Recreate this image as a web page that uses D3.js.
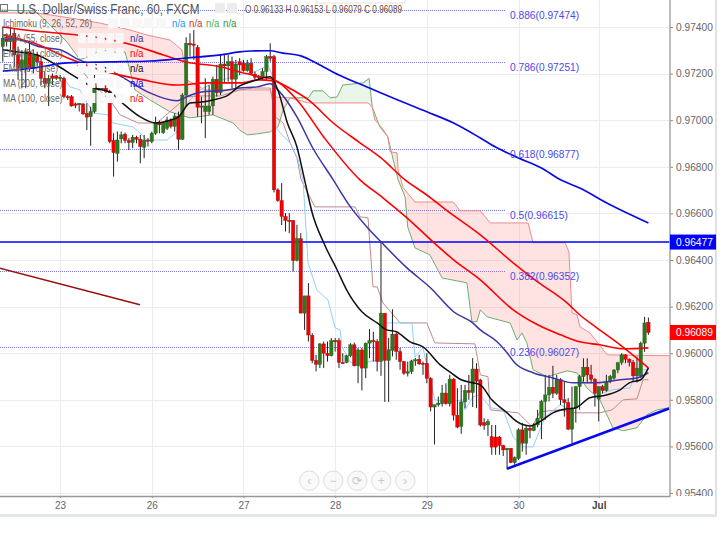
<!DOCTYPE html>
<html><head><meta charset="utf-8">
<script src="https://cdn.jsdelivr.net/npm/d3@7"></script>
<style>html,body{margin:0;padding:0;background:#fff}svg{display:block}text{font-family:"Liberation Sans",Arial,sans-serif}</style>
</head><body><svg id="c" width="725" height="543"></svg>
<script>
// Prices are in units of 0.00001 (97400 = 0.97400). Candle index is the hourly bar number.
const title = "U.S. Dollar/Swiss Franc, 60, FXCM";
const ohlcText = "O 0.96133 H 0.96153 L 0.96079 C 0.96089";
const dayTickIndex = [15,39,63,87,111,135,156];
const dayTickLabels = ["23","26","27","28","29","30","Jul"];
const priceTicks = [95400,95600,95800,96000,96200,96400,96600,96800,97000,97200,97400];
const opens = [97316,97356,97337,97373,97280,97223,97223,97294,97223,97280,
97251,97180,97158,97190,97190,97178,97180,97101,97101,97070,
97066,97070,97030,97015,97037,97147,97133,97147,97123,96913,
96858,96920,96940,96913,96904,96927,96918,96884,96915,96908,
96944,96990,96947,96965,97001,96973,97018,96918,97108,97330,
97327,97313,97056,97037,97037,97061,97176,97118,97241,97233,
97251,97176,97251,97244,97213,97244,97198,97187,97184,97209,
97273,97273,96701,96655,96587,96570,96570,96398,96492,96172,
96246,96077,95969,95952,96040,96000,95989,96054,96054,95960,
95960,95989,96036,95946,96014,95936,96043,96054,96050,95964,
96172,95969,96012,96082,96007,95964,95914,95921,95967,95974,
95957,95957,95892,95769,95779,95783,95829,95783,95889,95734,
95686,95791,95840,95831,95932,95885,95702,95692,95642,95640,
95640,95604,95585,95592,95531,95549,95671,95614,95678,95668,
95692,95721,95793,95821,95854,95828,95886,95800,95788,95674,
95764,95857,95900,95940,95907,95888,95803,95857,95840,95878,
95893,95928,95960,95993,95974,95961,95903,95903,96043,96133];
const highs = [97402,97373,97402,97394,97316,97301,97309,97330,97301,97294,
97273,97209,97194,97201,97194,97194,97187,97108,97108,97076,
97080,97073,97073,97058,97194,97158,97166,97151,97130,96944,
96951,96951,96947,96923,96937,96933,96937,96937,96923,96951,
97015,96998,96994,97015,97008,97030,97037,97116,97356,97373,
97387,97323,97101,97180,97151,97187,97237,97280,97280,97280,
97273,97259,97266,97259,97259,97266,97209,97194,97223,97280,
97330,97280,96708,96730,96601,96601,96570,96551,96515,96246,
96301,96086,95993,96043,96050,96050,96065,96065,96065,96000,
95993,96043,96046,96022,96022,96046,96103,96092,96060,96478,
96172,96065,96189,96086,96022,95967,95964,95972,95979,95993,
95964,96000,95897,95779,95814,95864,95871,95907,95893,95850,
95864,95864,95907,95979,95957,95890,95721,95717,95692,95692,
95645,95607,95592,95592,95557,95678,95700,95692,95685,95700,
95757,95800,95907,95907,95946,95907,95893,95878,95807,95857,
95857,95907,95978,95978,95950,95893,95857,95864,95907,95907,
95931,95960,96000,95996,95978,95971,95986,96050,96156,96153];
const lows = [97251,97316,97301,97230,97173,97137,97137,97209,97201,97230,
97151,97137,97061,97151,97173,97166,97094,97087,97058,97051,
97037,97023,96958,96890,97030,97127,97130,97116,96901,96758,
96822,96901,96901,96872,96880,96901,96815,96837,96887,96901,
96937,96944,96941,96958,96965,96951,96872,96915,97058,97273,
97259,97015,96987,96923,97023,97023,97101,97108,97158,97166,
97137,97137,97194,97208,97208,97194,97173,97173,97173,97173,
97251,96690,96650,96550,96522,96515,96351,96394,96172,96100,
96050,95957,95922,95936,95936,95964,95986,96007,95936,95954,
95957,95983,95943,95871,95840,95893,95979,95964,95922,95903,
95791,95791,95986,95972,95929,95907,95900,95911,95946,95950,
95907,95871,95750,95608,95771,95771,95779,95771,95711,95678,
95654,95764,95800,95769,95764,95685,95671,95645,95564,95564,
95564,95559,95502,95528,95521,95542,95578,95564,95635,95665,
95682,95631,95714,95793,95807,95821,95778,95728,95671,95614,
95702,95757,95878,95871,95871,95771,95707,95828,95835,95871,
95886,95914,95950,95957,95943,95878,95874,95893,96006,96079];
const closes = [97352,97337,97362,97280,97223,97259,97294,97223,97280,97251,
97180,97158,97180,97180,97180,97184,97101,97098,97061,97064,
97073,97027,97013,97037,97158,97133,97147,97123,96908,96861,
96915,96937,96913,96904,96927,96918,96887,96915,96910,96944,
96990,96980,96990,97001,96973,97018,96918,97108,97330,97323,
97321,97056,97061,97061,97061,97176,97118,97241,97233,97251,
97176,97241,97237,97213,97244,97201,97184,97184,97209,97273,
97266,96701,96655,96587,96570,96567,96398,96492,96172,96246,
96078,95969,95952,96040,96000,95989,96054,96052,95960,95957,
95989,96036,95946,96014,95936,96043,96054,96050,95964,96172,
95969,96015,96082,96007,95964,95914,95921,95967,95972,95954,
95954,95892,95769,95779,95786,95829,95783,95889,95734,95683,
95791,95840,95831,95932,95880,95692,95690,95707,95597,95597,
95604,95585,95592,95531,95552,95671,95614,95678,95668,95692,
95721,95793,95821,95854,95828,95886,95800,95788,95674,95764,
95857,95900,95940,95907,95888,95828,95857,95840,95878,95900,
95928,95960,95993,95974,95961,95903,95936,96043,96130,96089];

const ma200Idx = [0,8,17,28,38.5,48,57,62,65,70,73,78,83,88,96,102,111,118,125,129,135,141,146,151,159,169];
const ma200Val = [97211,97224,97246,97250,97254,97267,97280,97293,97297,97298,97289,97276,97237,97194,97138,97096,97036,96988,96924,96885,96838,96795,96744,96709,96637,96559];
const ma100Idx = [0,8,17,27,34,42,48,57,62,66.5,71,75,80,86.5,93.5,99,105.3,111,116,125,133.6,140,147.7,151,155.5,161.6,169];
const ma100Val = [97400,97383,97370,97349,97323,97280,97250,97229,97207,97190,97173,97138,97087,96988,96903,96838,96744,96679,96615,96508,96388,96306,96216,96165,96109,96036,95937];
const emaRedIdx = [0,8,17,25.5,36.7,45.6,53.5,62,67,71,77,84,93.5,99.5,105.8,112.6,118,125,133.6,140,146,151,156.3,162.4,169];
const emaRedVal = [97366,97332,97267,97216,97173,97151,97160,97160,97173,97168,97087,96928,96744,96667,96581,96478,96401,96315,96186,96122,96079,96049,96036,96019,96023];
const ema55Idx = [0,4.5,10,15,20,27,32.5,38.5,45.6,48,52,57,62,66.5,70,72,77,81,86.5,91,95.3,99,105.8,112,118,123,125,129.4,132,134,138.8,144,149.3,155.5,161.6,166,169];
const ema55Val = [97351,97344,97314,97302,97259,97224,97173,97117,97083,97100,97121,97126,97138,97143,97156,97130,97014,96885,96744,96628,96542,96478,96366,96280,96178,96130,96100,96049,96002,95959,95916,95894,95873,95873,95886,95894,95916];
const emaBlackIdx = [0,4,9,14,19,24,28,31,36,40,44,46,49,52,55,59,62,65.5,70,72,74.5,77,79,81,84,87.5,90,94,98,100.5,103,106.6,110,114.5,117,120,123,125,128,132,134.6,138,140.6,144,147.7,150,153.7,157,161.6,164,167,169];
const emaBlackVal = [97302,97293,97280,97237,97186,97138,97121,97078,97014,96988,97001,97014,97074,97078,97087,97108,97147,97168,97186,97130,96988,96885,96744,96602,96474,96358,96272,96178,96130,96100,96092,96049,96027,95950,95920,95886,95873,95864,95800,95744,95706,95688,95706,95744,95761,95766,95809,95817,95843,95873,95886,95937];
const spanAIdx = [-1,8.4,9,11,16.8,20.2,23.6,25.4,30.2,32,34.6,38.5,43.8,49,55,60.3,62,64,66.5,70,72,73.4,75.2,80,81.2,83.8,85.7,87.5,89,94.3,95.9,96.7,98.7,100.8,102.2,103.5,105.3,106,107.9,111.8,115,121.5,122.8,124.1,125,126.8,132.8,134.6,135.9,137.2,138.8,142.5,147.7,150.3,152.9,156.3,159.7,162.4,166,168.6,171.3,174.4];
const spanAVal = [97473,97469,97460,97430,97336,97259,97280,97302,97289,97293,97130,97087,97036,97010,97023,96988,96958,96937,96941,96950,96971,97044,97096,97096,97126,97126,97096,97100,97151,97160,97179,97057,96971,96928,96830,96744,96671,96542,96452,96422,96323,96302,96135,96135,96186,96156,96130,96057,96087,96044,95929,95899,95924,95916,95851,95800,95680,95667,95680,95736,95757,95766];
const spanBIdx = [-1,9,17.6,25.4,33.3,37.7,43.8,46.9,48.2,52.9,62,70,70.7,75.2,80,95.6,96.7,97.4,99.3,100.8,101.4,103.2,103.5,104.8,107.9,117.9,119.7,125,127.6,137.5,138.8,147.2,148.2,149,150.3,151.1,153.7,158.2,174.4];
const spanBVal = [97460,97460,97439,97417,97387,97366,97344,97302,97173,97130,97130,97130,97100,97096,97074,97074,97057,97001,96967,96928,96864,96860,96787,96710,96649,96649,96611,96611,96559,96559,96474,96474,96435,96173,96165,96113,96087,95993,95989];
const kijunIdx = [19.4,22.3,28.6,30.7,35.4,40.4,41.9,48.2,51.6,56.9,62.1,65.5,70,71.3,73.4,75.2,77,78.1,81.7,92.2,93.5,95.6,96.9,98,99.5,104,111,113.1,123.6,125,127,127.6,134.9,138.6,140.6,145.9,150.3,156.3,159.5,162.4,166,167.6,169];
const kijunVal = [97237,97181,97074,97023,96988,96988,97010,97100,97104,97104,97130,97138,97138,97014,96988,96903,96838,96744,96628,96628,96585,96581,96285,96285,96216,96130,96130,96044,96040,95907,95899,95757,95744,95684,95749,95757,95744,95744,95757,95800,95804,95886,95886];
const tenkanIdx = [15.8,17.6,20.2,23.6,27.5,28.8,34.1,35.9,37.7,43,45.6,46.9,49,51.6,55.6,62.1,66,69.4,70.5,70.7,72.6,75.2,77.3,78.6,79.9,82.2,85.1,87,88.3,88.8,90.9,94.3,95.6,98.7,99.5,107.1,107.9,110,113.1,116.6,120.5,121,123.1,125,127.6,131,133.6,136.2,138.8,142,145.9,149,153.7,159.5,164.2,166,169];
const tenkanVal = [97181,97143,97130,97031,97023,96988,96971,96945,96915,96915,96950,97044,97087,97130,97164,97194,97207,97237,97194,96988,96945,96903,96830,96744,96388,96272,96229,96109,96100,96027,95963,95937,95963,95972,96130,96130,95984,96023,95800,95791,95800,95757,95813,95821,95766,95757,95641,95598,95598,95727,95778,95757,95809,95843,95851,95929,95929];
const fibRatios = ["0.886","0.786","0.618","0.5","0.382","0.236"];
const fibPrices = [97474,97251,96877,96615,96352,96027];
const horizontalLevel = 96477;
const lastClose = 96089;
const brownLineIdx = [-1,35.9];
const brownLineVal = [96366,96208];
const trendIdx = [132,174.4];
const trendVal = [95504,95763];
const legendRows = ["EMA (55, close)","EMA (21, close)","EMA (9, close)","MA (200, close)","MA (100, close)"];
const legendColors = ["#333399","#ff0000","#111111","#0000ff","#ff0000"];
const ichimokuLabel = "Ichimoku (9, 26, 52, 26)";
const ichimokuNaColors = ["#2196f3","#c0392b","#4caf50","#388e3c"];
const navGlyphs = ["‹","−","⟳","+","›"];

const svg = d3.select("#c");
const PLOT_R = 670, PLOT_B = 496;
const x = d3.scaleLinear().domain([0,169]).range([2.8,648.4]);
const y = d3.scaleLinear().domain([95400,97400]).range([493,27]);
const fmt = v => (v/1e5).toFixed(5);
const zip = (ix,vs) => ix.map((d,i)=>[d,vs[i]]);
const lineGen = d3.line().x(d=>x(d[0])).y(d=>y(d[1]));
const smooth = d3.line().x(d=>x(d[0])).y(d=>y(d[1])).curve(d3.curveMonotoneX);

const defs = svg.append("defs");
defs.append("clipPath").attr("id","plot").append("rect").attr("x",0).attr("y",0).attr("width",PLOT_R).attr("height",PLOT_B);
defs.append("clipPath").attr("id","axisclip").append("rect").attr("x",0).attr("y",0).attr("width",55).attr("height",PLOT_B);

// grid
const grid = svg.append("g").attr("stroke","#ececec").attr("stroke-width",1);
priceTicks.forEach(p=>grid.append("line").attr("x1",0).attr("x2",PLOT_R).attr("y1",Math.round(y(p))+.5).attr("y2",Math.round(y(p))+.5));
dayTickIndex.forEach(i=>grid.append("line").attr("y1",0).attr("y2",PLOT_B).attr("x1",Math.round(x(i))+.5).attr("x2",Math.round(x(i))+.5));

const plot = svg.append("g").attr("clip-path","url(#plot)");

// fib dotted levels
fibPrices.forEach(p=>plot.append("line").attr("x1",0).attr("x2",506).attr("y1",Math.round(y(p))+.5).attr("y2",Math.round(y(p))+.5)
  .attr("stroke","#7a7aff").attr("stroke-dasharray","1,1"));

// cloud
const A = zip(spanAIdx,spanAVal), B = zip(spanBIdx,spanBVal);
function cloud(a,b,fill){
  const top = A.filter(d=>d[0]>=a&&d[0]<=b), bot = B.filter(d=>d[0]>=a&&d[0]<=b).reverse();
  plot.append("path").attr("d",lineGen(top.concat(bot))+"Z").attr("fill",fill);
}
cloud(-1,9,"rgba(76,175,80,.13)");
cloud(9,75.2,"rgba(255,82,82,.16)");
cloud(75.2,96.7,"rgba(76,175,80,.13)");
cloud(96.7,174.4,"rgba(255,82,82,.16)");

// legend (under candles)
const lg = svg.append("g").attr("fill","#666");
function fit(t,xx,yy,size,len,fill){
  return lg.append("text").attr("x",xx).attr("y",yy).attr("font-size",size).attr("fill",fill||"#666")
    .attr("textLength",len).attr("lengthAdjust","spacingAndGlyphs").text(t);
}
lg.append("rect").attr("x",0.5).attr("y",4.5).attr("width",7).attr("height",7).attr("fill","none").attr("stroke","#777");
fit(title,16.5,14,14.5,183,"#555");
for(let k=0;k<5;k++) lg.append("rect").attr("x",108+k*12).attr("y",18).attr("width",10).attr("height",10).attr("fill","#f7f7f7");
fit(ichimokuLabel,3,27,11.5,89);
ichimokuNaColors.forEach((c,i)=>fit("n/a",172+i*17,27,11.5,13.5,c));
legendRows.forEach((t,i)=>{
  const yy = 42+i*15;
  for(let k=0;k<5;k++) lg.append("rect").attr("x",78+k*9.4).attr("y",yy-9).attr("width",8).attr("height",10)
     .attr("fill","#f8f8f8");
  fit(t,3,yy,11.5,t.startsWith("EMA (9")?55:59.5);
  fit("n/a",130,yy,11.5,13.5,legendColors[i]);
});
for(let k=0;k<2;k++) lg.append("rect").attr("x",215+k*12).attr("y",3).attr("width",10).attr("height",10).attr("fill","#ececec");
fit(ohlcText,245,13,11.5,157,"#6b4a3a");
svg.append("rect").attr("x",316).attr("y",-3).attr("width",89).attr("height",6).attr("fill","#fff").attr("stroke","#e3e3e3");

// thin ichimoku lines
plot.append("path").attr("d",lineGen(A)).attr("fill","none").attr("stroke","#6fae6f").attr("stroke-width",1);
plot.append("path").attr("d",lineGen(B)).attr("fill","none").attr("stroke","#f08a8a").attr("stroke-width",1);
plot.append("path").attr("d",lineGen(zip(kijunIdx,kijunVal))).attr("fill","none").attr("stroke","#c08a8a").attr("stroke-width",1);
plot.append("path").attr("d",lineGen(zip(tenkanIdx,tenkanVal))).attr("fill","none").attr("stroke","#8fd0ff").attr("stroke-width",1);

// horizontal level
plot.append("line").attr("x1",0).attr("x2",PLOT_R).attr("y1",y(horizontalLevel)).attr("y2",y(horizontalLevel)).attr("stroke","#0000ff").attr("stroke-width",1.6);

// candles
const candles = plot.append("g");
opens.forEach((o,i)=>{
  const c = closes[i], up = c>=o, cx = x(i);
  candles.append("line").attr("x1",cx).attr("x2",cx).attr("y1",y(highs[i])).attr("y2",y(lows[i])).attr("stroke","#222").attr("stroke-width",1);
  const t = y(Math.max(o,c)), b = y(Math.min(o,c));
  candles.append("rect").attr("x",cx-1.7).attr("width",3.4).attr("y",t).attr("height",Math.max(b-t,1.2))
    .attr("fill",up?"#2a7a1a":"#f40000").attr("stroke",up?"#2f5a28":"#8a1a1a").attr("stroke-width",.4);
});

// moving averages
[[ema55Idx,ema55Val,"#3b35a5",1.5],[emaRedIdx,emaRedVal,"#f00",1.6],[ma100Idx,ma100Val,"#f00",1.6],[emaBlackIdx,emaBlackVal,"#111",1.5],[ma200Idx,ma200Val,"#0a0ae6",1.7]]
 .forEach(([ix,vs,col,w])=>plot.append("path").attr("d",smooth(zip(ix,vs))).attr("fill","none").attr("stroke",col).attr("stroke-width",w));

// drawn lines
plot.append("path").attr("d",lineGen(zip(brownLineIdx,brownLineVal))).attr("stroke","#990f0f").attr("stroke-width",1.5).attr("fill","none");
plot.append("path").attr("d",lineGen(zip(trendIdx,trendVal))).attr("stroke","#0808f0").attr("stroke-width",2.6).attr("fill","none");

// fib labels
fibRatios.forEach((r,i)=>svg.append("text").attr("x",510).attr("y",y(fibPrices[i])+9).attr("font-size",10.2).attr("fill","#4a4ae8").text(r+"("+fmt(fibPrices[i])+")"));

// nav buttons
navGlyphs.forEach((g,i)=>{
  const cx = 309.3+i*24;
  svg.append("circle").attr("cx",cx).attr("cy",480.7).attr("r",9.7).attr("fill","#f7f7f7").attr("fill-opacity",.7).attr("stroke","#dedede");
  svg.append("text").attr("x",cx).attr("y",484.8).attr("text-anchor","middle").attr("font-size",12).attr("fill","#c8c8c8").text(g);
});

// axes
const yAxis = d3.axisRight(y).tickValues(priceTicks).tickFormat(fmt).tickSize(3).tickPadding(3);
const ya = svg.append("g").attr("transform",`translate(${PLOT_R},0)`).attr("clip-path","url(#axisclip)");
const yaInner = ya.append("g").call(yAxis);
yaInner.select(".domain").remove();
yaInner.selectAll("text").attr("font-size",10.2).attr("fill","#666").attr("font-family","Liberation Sans");
yaInner.selectAll("line").attr("stroke","#888");
const xAxis = d3.axisBottom(x).tickValues(dayTickIndex).tickFormat((d,i)=>dayTickLabels[i]).tickSize(2).tickPadding(4);
const xa = svg.append("g").attr("transform",`translate(0,${PLOT_B})`).call(xAxis);
xa.select(".domain").remove();
xa.selectAll("text").attr("font-size",10).attr("fill","#666").attr("font-family","Liberation Sans");
xa.selectAll("line").attr("stroke","#888");
xa.selectAll("text").filter((d,i)=>dayTickLabels[i]==="Jul").attr("font-weight","bold").attr("fill","#444");

svg.append("line").attr("x1",0).attr("x2",PLOT_R).attr("y1",496.5).attr("y2",496.5).attr("stroke","#999").attr("stroke-width",1.5);
svg.append("line").attr("x1",PLOT_R).attr("x2",PLOT_R).attr("y1",0).attr("y2",497).attr("stroke","#aaa").attr("stroke-width",1.6);
svg.append("line").attr("x1",716).attr("x2",716).attr("y1",0).attr("y2",517).attr("stroke","#dfe2e5").attr("stroke-width",2);
svg.append("line").attr("x1",0).attr("x2",717).attr("y1",515.5).attr("y2",515.5).attr("stroke","#e4e7ea").attr("stroke-width",3);

// price tags
[[horizontalLevel,"#0000ff"],[lastClose,"#ff0000"]].forEach(([p,col])=>{
  const yy = y(p);
  svg.append("rect").attr("x",PLOT_R).attr("y",yy-7.5).attr("width",46).attr("height",15).attr("fill",col);
  svg.append("text").attr("x",676).attr("y",yy+4).attr("font-size",10.2).attr("fill","#fff").text(fmt(p));
});
</script></body></html>
